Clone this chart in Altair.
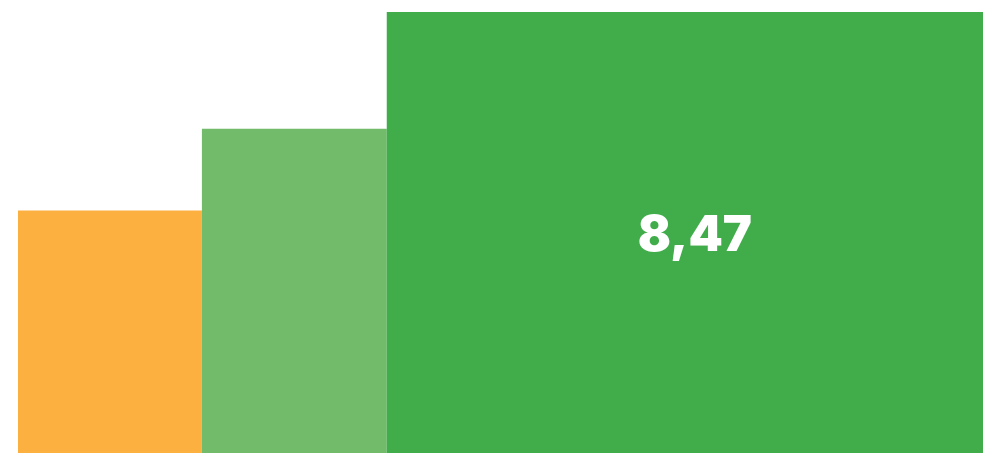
import altair as alt
import pandas as pd

categories = ["A", "B", "C"]
shares = [18.9, 19.0, 62.1]          # bar widths (share of total, %)
values = [4.66, 6.23, 8.47]          # bar heights
labels = ["", "", "8,47"]
colors = ["#fcb040", "#71bb6a", "#41ad4a"]

starts = []
acc = 0.0
for s in shares:
    starts.append(acc)
    acc += s
df = pd.DataFrame({
    "cat": categories,
    "x0": starts,
    "x1": [a + b for a, b in zip(starts, shares)],
    "value": values,
    "label": labels,
})
df["xm"] = (df["x0"] + df["x1"]) / 2
df["ym"] = df["value"] / 2

xscale = alt.Scale(domain=[-1.028, 99.18], nice=False, zero=False)
yscale = alt.Scale(domain=[0, 8.547], nice=False)

bars = alt.Chart(df).mark_rect().encode(
    x=alt.X("x0:Q", scale=xscale, axis=None),
    x2="x1:Q",
    y=alt.Y("value:Q", scale=yscale, axis=None),
    y2=alt.datum(0),
    color=alt.Color("cat:N", scale=alt.Scale(domain=categories, range=colors), legend=None),
)

text = alt.Chart(df).mark_text(
    font="Inter", fontWeight=900, fontSize=49, color="white",
    baseline="middle", align="center", dx=6, dy=3,
).encode(
    x=alt.X("xm:Q", scale=xscale),
    y=alt.Y("ym:Q", scale=yscale),
    text="label:N",
)

chart = (bars + text).properties(
    width=975, height=445, padding=0,
    autosize=alt.AutoSizeParams(type="none"),
).configure_view(stroke=None)

chart.save("out.html", embed_options={"renderer": "svg", "actions": False})
